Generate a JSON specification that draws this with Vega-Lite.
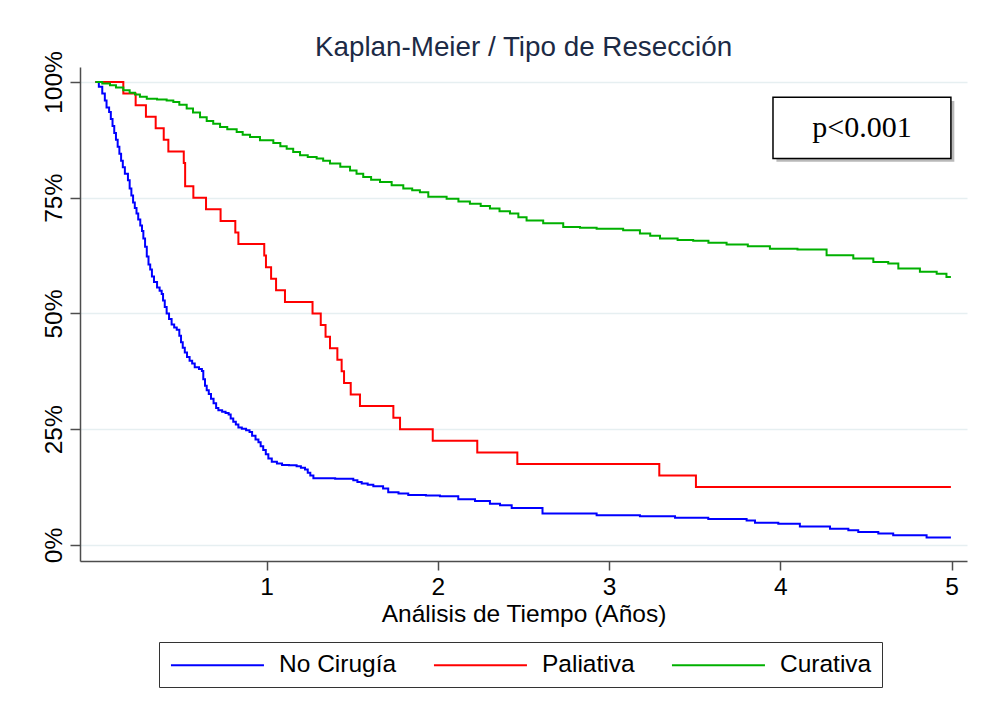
{
  "$schema": "https://vega.github.io/schema/vega-lite/v6.json",
  "width": 887,
  "height": 494,
  "autosize": {"type": "none"},
  "padding": {"left": 80, "top": 67, "right": 15, "bottom": 158},
  "background": "#ffffff",
  "title": {
    "text": "Kaplan-Meier / Tipo de Resección",
    "anchor": "middle",
    "font": "Liberation Sans",
    "fontSize": 27.8,
    "fontWeight": "normal",
    "color": "#1c2a45",
    "baseline": "alphabetic",
    "offset": 10,
    "dy": 43
  },
  "config": {
    "view": {"stroke": null},
    "axis": {
      "domainColor": "#4d4d4d",
      "domainWidth": 1.5,
      "tickColor": "#4d4d4d",
      "tickWidth": 1.5,
      "labelFont": "Liberation Sans",
      "labelFontSize": 24.5,
      "labelColor": "#000000",
      "titleFont": "Liberation Sans",
      "titleFontSize": 24.5,
      "titleFontWeight": "normal",
      "titleColor": "#000000",
      "gridColor": "#e6eff1",
      "gridWidth": 1.5
    }
  },
  "datasets": {
    "km": [
      {"grupo": "No Cirugía", "t": 0, "s": 100},
      {"grupo": "No Cirugía", "t": 0.02, "s": 99},
      {"grupo": "No Cirugía", "t": 0.04, "s": 97.5},
      {"grupo": "No Cirugía", "t": 0.055, "s": 96},
      {"grupo": "No Cirugía", "t": 0.065, "s": 94.5},
      {"grupo": "No Cirugía", "t": 0.08, "s": 93.5},
      {"grupo": "No Cirugía", "t": 0.09, "s": 92},
      {"grupo": "No Cirugía", "t": 0.1, "s": 90.5},
      {"grupo": "No Cirugía", "t": 0.11, "s": 89},
      {"grupo": "No Cirugía", "t": 0.12, "s": 87.5},
      {"grupo": "No Cirugía", "t": 0.13, "s": 86},
      {"grupo": "No Cirugía", "t": 0.14, "s": 84.5},
      {"grupo": "No Cirugía", "t": 0.15, "s": 83},
      {"grupo": "No Cirugía", "t": 0.16, "s": 81.6},
      {"grupo": "No Cirugía", "t": 0.172, "s": 80.2},
      {"grupo": "No Cirugía", "t": 0.19, "s": 78.8},
      {"grupo": "No Cirugía", "t": 0.2, "s": 77},
      {"grupo": "No Cirugía", "t": 0.21, "s": 75.5},
      {"grupo": "No Cirugía", "t": 0.22, "s": 74},
      {"grupo": "No Cirugía", "t": 0.23, "s": 72.8},
      {"grupo": "No Cirugía", "t": 0.24, "s": 71.6},
      {"grupo": "No Cirugía", "t": 0.25, "s": 70.3},
      {"grupo": "No Cirugía", "t": 0.262, "s": 69},
      {"grupo": "No Cirugía", "t": 0.272, "s": 67.8},
      {"grupo": "No Cirugía", "t": 0.28, "s": 66.2},
      {"grupo": "No Cirugía", "t": 0.29, "s": 64.4},
      {"grupo": "No Cirugía", "t": 0.3, "s": 62.3},
      {"grupo": "No Cirugía", "t": 0.31, "s": 60.6},
      {"grupo": "No Cirugía", "t": 0.32, "s": 59.5},
      {"grupo": "No Cirugía", "t": 0.33, "s": 58},
      {"grupo": "No Cirugía", "t": 0.342, "s": 56.8},
      {"grupo": "No Cirugía", "t": 0.36, "s": 55.6},
      {"grupo": "No Cirugía", "t": 0.375, "s": 54.9},
      {"grupo": "No Cirugía", "t": 0.387, "s": 54.2},
      {"grupo": "No Cirugía", "t": 0.395, "s": 52.8},
      {"grupo": "No Cirugía", "t": 0.405, "s": 51.4},
      {"grupo": "No Cirugía", "t": 0.416, "s": 50},
      {"grupo": "No Cirugía", "t": 0.43, "s": 48.8},
      {"grupo": "No Cirugía", "t": 0.445, "s": 47.6},
      {"grupo": "No Cirugía", "t": 0.46, "s": 47},
      {"grupo": "No Cirugía", "t": 0.475, "s": 46.5},
      {"grupo": "No Cirugía", "t": 0.49, "s": 45.2},
      {"grupo": "No Cirugía", "t": 0.5, "s": 43.8},
      {"grupo": "No Cirugía", "t": 0.51, "s": 42.6},
      {"grupo": "No Cirugía", "t": 0.522, "s": 41.6},
      {"grupo": "No Cirugía", "t": 0.535, "s": 40.6},
      {"grupo": "No Cirugía", "t": 0.55, "s": 39.8},
      {"grupo": "No Cirugía", "t": 0.565, "s": 39.2},
      {"grupo": "No Cirugía", "t": 0.58, "s": 38.4},
      {"grupo": "No Cirugía", "t": 0.605, "s": 38},
      {"grupo": "No Cirugía", "t": 0.622, "s": 37.6},
      {"grupo": "No Cirugía", "t": 0.63, "s": 35.8},
      {"grupo": "No Cirugía", "t": 0.64, "s": 34.4},
      {"grupo": "No Cirugía", "t": 0.65, "s": 33.4},
      {"grupo": "No Cirugía", "t": 0.662, "s": 32.6},
      {"grupo": "No Cirugía", "t": 0.675, "s": 31.6},
      {"grupo": "No Cirugía", "t": 0.69, "s": 30.6},
      {"grupo": "No Cirugía", "t": 0.705, "s": 29.6},
      {"grupo": "No Cirugía", "t": 0.718, "s": 29.1},
      {"grupo": "No Cirugía", "t": 0.74, "s": 28.8},
      {"grupo": "No Cirugía", "t": 0.76, "s": 28.5},
      {"grupo": "No Cirugía", "t": 0.778, "s": 28.2},
      {"grupo": "No Cirugía", "t": 0.79, "s": 27.3},
      {"grupo": "No Cirugía", "t": 0.805, "s": 26.6},
      {"grupo": "No Cirugía", "t": 0.82, "s": 26},
      {"grupo": "No Cirugía", "t": 0.835, "s": 25.4},
      {"grupo": "No Cirugía", "t": 0.855, "s": 25.1},
      {"grupo": "No Cirugía", "t": 0.88, "s": 24.8},
      {"grupo": "No Cirugía", "t": 0.9, "s": 24.4},
      {"grupo": "No Cirugía", "t": 0.915, "s": 23.6},
      {"grupo": "No Cirugía", "t": 0.935, "s": 22.8},
      {"grupo": "No Cirugía", "t": 0.952, "s": 22.2},
      {"grupo": "No Cirugía", "t": 0.965, "s": 21.3},
      {"grupo": "No Cirugía", "t": 0.98, "s": 20.5},
      {"grupo": "No Cirugía", "t": 0.995, "s": 19.6},
      {"grupo": "No Cirugía", "t": 1.01, "s": 18.7},
      {"grupo": "No Cirugía", "t": 1.03, "s": 18},
      {"grupo": "No Cirugía", "t": 1.06, "s": 17.6},
      {"grupo": "No Cirugía", "t": 1.09, "s": 17.3},
      {"grupo": "No Cirugía", "t": 1.13, "s": 17.2},
      {"grupo": "No Cirugía", "t": 1.175, "s": 17},
      {"grupo": "No Cirugía", "t": 1.2, "s": 16.7},
      {"grupo": "No Cirugía", "t": 1.224, "s": 16.3},
      {"grupo": "No Cirugía", "t": 1.24, "s": 15.6},
      {"grupo": "No Cirugía", "t": 1.255, "s": 15},
      {"grupo": "No Cirugía", "t": 1.273, "s": 14.4},
      {"grupo": "No Cirugía", "t": 1.4, "s": 14.3},
      {"grupo": "No Cirugía", "t": 1.506, "s": 14},
      {"grupo": "No Cirugía", "t": 1.53, "s": 13.6},
      {"grupo": "No Cirugía", "t": 1.555, "s": 13.3},
      {"grupo": "No Cirugía", "t": 1.59, "s": 13},
      {"grupo": "No Cirugía", "t": 1.623, "s": 12.7},
      {"grupo": "No Cirugía", "t": 1.68, "s": 12.2},
      {"grupo": "No Cirugía", "t": 1.71, "s": 11.4},
      {"grupo": "No Cirugía", "t": 1.77, "s": 11.1},
      {"grupo": "No Cirugía", "t": 1.827, "s": 10.8},
      {"grupo": "No Cirugía", "t": 1.93, "s": 10.7},
      {"grupo": "No Cirugía", "t": 2.012, "s": 10.5},
      {"grupo": "No Cirugía", "t": 2.119, "s": 9.9},
      {"grupo": "No Cirugía", "t": 2.217, "s": 9.5},
      {"grupo": "No Cirugía", "t": 2.304, "s": 8.9},
      {"grupo": "No Cirugía", "t": 2.363, "s": 8.6},
      {"grupo": "No Cirugía", "t": 2.431, "s": 8},
      {"grupo": "No Cirugía", "t": 2.611, "s": 6.8},
      {"grupo": "No Cirugía", "t": 2.927, "s": 6.4},
      {"grupo": "No Cirugía", "t": 3.18, "s": 6.2},
      {"grupo": "No Cirugía", "t": 3.385, "s": 5.9},
      {"grupo": "No Cirugía", "t": 3.579, "s": 5.6},
      {"grupo": "No Cirugía", "t": 3.803, "s": 5.3},
      {"grupo": "No Cirugía", "t": 3.852, "s": 4.8},
      {"grupo": "No Cirugía", "t": 3.988, "s": 4.6},
      {"grupo": "No Cirugía", "t": 4.114, "s": 4},
      {"grupo": "No Cirugía", "t": 4.29, "s": 3.5},
      {"grupo": "No Cirugía", "t": 4.397, "s": 3.2},
      {"grupo": "No Cirugía", "t": 4.455, "s": 2.8},
      {"grupo": "No Cirugía", "t": 4.572, "s": 2.5},
      {"grupo": "No Cirugía", "t": 4.659, "s": 2.1},
      {"grupo": "No Cirugía", "t": 4.854, "s": 1.6},
      {"grupo": "No Cirugía", "t": 4.996, "s": 1.6},

      {"grupo": "Paliativa", "t": 0, "s": 100},
      {"grupo": "Paliativa", "t": 0.163, "s": 97.5},
      {"grupo": "Paliativa", "t": 0.235, "s": 95},
      {"grupo": "Paliativa", "t": 0.295, "s": 92.5},
      {"grupo": "Paliativa", "t": 0.352, "s": 90},
      {"grupo": "Paliativa", "t": 0.399, "s": 87.5},
      {"grupo": "Paliativa", "t": 0.426, "s": 85},
      {"grupo": "Paliativa", "t": 0.516, "s": 82.5},
      {"grupo": "Paliativa", "t": 0.524, "s": 77.5},
      {"grupo": "Paliativa", "t": 0.572, "s": 75},
      {"grupo": "Paliativa", "t": 0.646, "s": 72.5},
      {"grupo": "Paliativa", "t": 0.731, "s": 70},
      {"grupo": "Paliativa", "t": 0.817, "s": 67.5},
      {"grupo": "Paliativa", "t": 0.835, "s": 65},
      {"grupo": "Paliativa", "t": 0.986, "s": 62.5},
      {"grupo": "Paliativa", "t": 0.996, "s": 60},
      {"grupo": "Paliativa", "t": 1.026, "s": 57.5},
      {"grupo": "Paliativa", "t": 1.055, "s": 55},
      {"grupo": "Paliativa", "t": 1.107, "s": 52.5},
      {"grupo": "Paliativa", "t": 1.268, "s": 50},
      {"grupo": "Paliativa", "t": 1.316, "s": 47.5},
      {"grupo": "Paliativa", "t": 1.344, "s": 45},
      {"grupo": "Paliativa", "t": 1.37, "s": 42.5},
      {"grupo": "Paliativa", "t": 1.413, "s": 40},
      {"grupo": "Paliativa", "t": 1.438, "s": 37.5},
      {"grupo": "Paliativa", "t": 1.452, "s": 35},
      {"grupo": "Paliativa", "t": 1.491, "s": 32.5},
      {"grupo": "Paliativa", "t": 1.545, "s": 30},
      {"grupo": "Paliativa", "t": 1.74, "s": 27.5},
      {"grupo": "Paliativa", "t": 1.779, "s": 25},
      {"grupo": "Paliativa", "t": 1.97, "s": 22.5},
      {"grupo": "Paliativa", "t": 2.23, "s": 20},
      {"grupo": "Paliativa", "t": 2.464, "s": 17.5},
      {"grupo": "Paliativa", "t": 3.293, "s": 15},
      {"grupo": "Paliativa", "t": 3.507, "s": 12.5},
      {"grupo": "Paliativa", "t": 4.996, "s": 12.5},

      {"grupo": "Curativa", "t": 0, "s": 100},
      {"grupo": "Curativa", "t": 0.04, "s": 99.7},
      {"grupo": "Curativa", "t": 0.085, "s": 99.3},
      {"grupo": "Curativa", "t": 0.12, "s": 98.8},
      {"grupo": "Curativa", "t": 0.163, "s": 98.2},
      {"grupo": "Curativa", "t": 0.2, "s": 97.7},
      {"grupo": "Curativa", "t": 0.231, "s": 97.3},
      {"grupo": "Curativa", "t": 0.26, "s": 96.8},
      {"grupo": "Curativa", "t": 0.3, "s": 96.4},
      {"grupo": "Curativa", "t": 0.36, "s": 96.2},
      {"grupo": "Curativa", "t": 0.416, "s": 96},
      {"grupo": "Curativa", "t": 0.455, "s": 95.7},
      {"grupo": "Curativa", "t": 0.49, "s": 95.1},
      {"grupo": "Curativa", "t": 0.533, "s": 94.3},
      {"grupo": "Curativa", "t": 0.57, "s": 93.4},
      {"grupo": "Curativa", "t": 0.611, "s": 92.4},
      {"grupo": "Curativa", "t": 0.65, "s": 91.6},
      {"grupo": "Curativa", "t": 0.688, "s": 91},
      {"grupo": "Curativa", "t": 0.728, "s": 90.3},
      {"grupo": "Curativa", "t": 0.77, "s": 89.8},
      {"grupo": "Curativa", "t": 0.825, "s": 89.2},
      {"grupo": "Curativa", "t": 0.86, "s": 88.6},
      {"grupo": "Curativa", "t": 0.903, "s": 88.1},
      {"grupo": "Curativa", "t": 0.961, "s": 87.4},
      {"grupo": "Curativa", "t": 1.039, "s": 86.8},
      {"grupo": "Curativa", "t": 1.08, "s": 86.1},
      {"grupo": "Curativa", "t": 1.117, "s": 85.6},
      {"grupo": "Curativa", "t": 1.155, "s": 84.9},
      {"grupo": "Curativa", "t": 1.195, "s": 84.2},
      {"grupo": "Curativa", "t": 1.24, "s": 83.8},
      {"grupo": "Curativa", "t": 1.292, "s": 83.5},
      {"grupo": "Curativa", "t": 1.33, "s": 83},
      {"grupo": "Curativa", "t": 1.37, "s": 82.4},
      {"grupo": "Curativa", "t": 1.43, "s": 81.7},
      {"grupo": "Curativa", "t": 1.487, "s": 80.9},
      {"grupo": "Curativa", "t": 1.525, "s": 80.2},
      {"grupo": "Curativa", "t": 1.564, "s": 79.5},
      {"grupo": "Curativa", "t": 1.61, "s": 78.9},
      {"grupo": "Curativa", "t": 1.662, "s": 78.4},
      {"grupo": "Curativa", "t": 1.73, "s": 77.7},
      {"grupo": "Curativa", "t": 1.798, "s": 77},
      {"grupo": "Curativa", "t": 1.85, "s": 76.6},
      {"grupo": "Curativa", "t": 1.895, "s": 76.2},
      {"grupo": "Curativa", "t": 1.944, "s": 75.2},
      {"grupo": "Curativa", "t": 2.051, "s": 74.8},
      {"grupo": "Curativa", "t": 2.12, "s": 74.2},
      {"grupo": "Curativa", "t": 2.187, "s": 73.7},
      {"grupo": "Curativa", "t": 2.25, "s": 73.2},
      {"grupo": "Curativa", "t": 2.304, "s": 72.7},
      {"grupo": "Curativa", "t": 2.36, "s": 72.1},
      {"grupo": "Curativa", "t": 2.421, "s": 71.6},
      {"grupo": "Curativa", "t": 2.47, "s": 70.8},
      {"grupo": "Curativa", "t": 2.518, "s": 70.1},
      {"grupo": "Curativa", "t": 2.615, "s": 69.5},
      {"grupo": "Curativa", "t": 2.732, "s": 68.7},
      {"grupo": "Curativa", "t": 2.83, "s": 68.5},
      {"grupo": "Curativa", "t": 2.927, "s": 68.3},
      {"grupo": "Curativa", "t": 3.082, "s": 68},
      {"grupo": "Curativa", "t": 3.18, "s": 67.3},
      {"grupo": "Curativa", "t": 3.24, "s": 66.8},
      {"grupo": "Curativa", "t": 3.297, "s": 66.2},
      {"grupo": "Curativa", "t": 3.4, "s": 65.9},
      {"grupo": "Curativa", "t": 3.491, "s": 65.7},
      {"grupo": "Curativa", "t": 3.58, "s": 65.3},
      {"grupo": "Curativa", "t": 3.686, "s": 64.9},
      {"grupo": "Curativa", "t": 3.81, "s": 64.5},
      {"grupo": "Curativa", "t": 3.939, "s": 64},
      {"grupo": "Curativa", "t": 4.1, "s": 63.8},
      {"grupo": "Curativa", "t": 4.27, "s": 62.6},
      {"grupo": "Curativa", "t": 4.426, "s": 61.9},
      {"grupo": "Curativa", "t": 4.543, "s": 61.1},
      {"grupo": "Curativa", "t": 4.63, "s": 60.8},
      {"grupo": "Curativa", "t": 4.689, "s": 59.7},
      {"grupo": "Curativa", "t": 4.815, "s": 59},
      {"grupo": "Curativa", "t": 4.913, "s": 58.6},
      {"grupo": "Curativa", "t": 4.97, "s": 57.9},
      {"grupo": "Curativa", "t": 4.996, "s": 57.9}
    ]
  },
  "layer": [
    {
      "data": {"name": "km"},
      "mark": {"type": "line", "interpolate": "step-after", "strokeWidth": 2},
      "encoding": {
        "x": {
          "field": "t",
          "type": "quantitative",
          "scale": {"domain": [-0.09, 5.09], "nice": false, "zero": false},
          "axis": {
            "values": [1, 2, 3, 4, 5],
            "format": "d",
            "grid": false,
            "tickSize": 9,
            "labelPadding": 5,
            "title": "Análisis de Tiempo (Años)",
            "titlePadding": 4
          }
        },
        "y": {
          "field": "s",
          "type": "quantitative",
          "scale": {"domain": [-3.46, 103.24], "nice": false, "zero": false},
          "axis": {
            "values": [0, 25, 50, 75, 100],
            "labelExpr": "datum.value + '%'",
            "grid": true,
            "tickSize": 10,
            "labelAngle": -90,
            "labelAlign": "center",
            "labelBaseline": "bottom",
            "labelPadding": 4,
            "title": null
          }
        },
        "color": {
          "field": "grupo",
          "type": "nominal",
          "scale": {
            "domain": ["No Cirugía", "Paliativa", "Curativa"],
            "range": ["#0000ff", "#ff0000", "#00b000"]
          },
          "legend": {
            "title": null,
            "orient": "none",
            "legendX": 79,
            "legendY": 575,
            "direction": "horizontal",
            "symbolType": "M-0.92,0H6.83",
            "symbolSize": 576,
            "symbolStrokeWidth": 2,
            "labelFont": "Liberation Sans",
            "labelFontSize": 24.5,
            "labelColor": "#000000",
            "labelOffset": 84,
            "columnPadding": 32,
            "padding": 10,
            "strokeColor": "#333333",
            "fillColor": "#ffffff"
          }
        }
      }
    },
    {
      "data": {"values": [{}]},
      "mark": {"type": "rect", "fill": "#7f7f7f", "opacity": 0.55},
      "encoding": {
        "x": {"datum": 3.977, "type": "quantitative"},
        "x2": {"datum": 5.016},
        "y": {"datum": 95.9, "type": "quantitative"},
        "y2": {"datum": 82.8}
      }
    },
    {
      "data": {"values": [{}]},
      "mark": {"type": "rect", "fill": "#ffffff", "stroke": "#000000", "strokeWidth": 1.5},
      "encoding": {
        "x": {"datum": 3.957, "type": "quantitative"},
        "x2": {"datum": 4.996},
        "y": {"datum": 96.7, "type": "quantitative"},
        "y2": {"datum": 83.5}
      }
    },
    {
      "data": {"values": [{"etiqueta": "p<0.001"}]},
      "mark": {"type": "text", "font": "Liberation Serif", "fontSize": 30, "color": "#000000", "align": "center", "baseline": "middle"},
      "encoding": {
        "x": {"datum": 4.477, "type": "quantitative"},
        "y": {"datum": 90.1, "type": "quantitative"},
        "text": {"field": "etiqueta"}
      }
    }
  ]
}
